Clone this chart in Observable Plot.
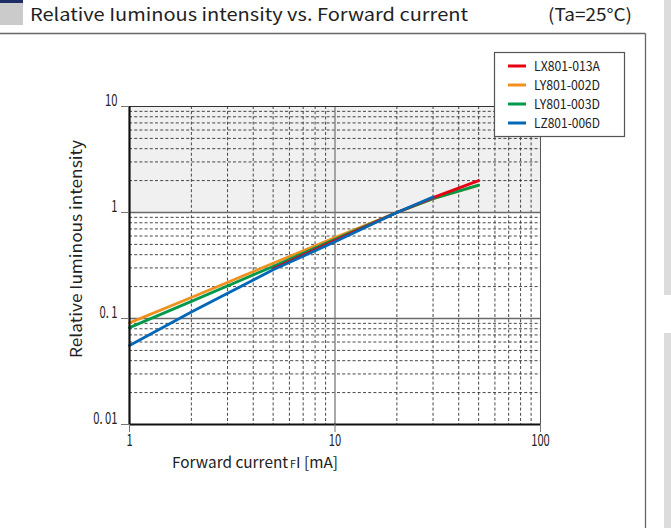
<!DOCTYPE html>
<html><head><meta charset="utf-8">
<script src="https://cdn.jsdelivr.net/npm/d3@7"></script>
<script src="https://cdn.jsdelivr.net/npm/@observablehq/plot@0.6"></script>
<style>
html,body{margin:0;padding:0;background:#fff;}
body{width:671px;height:528px;overflow:hidden;position:relative;font-family:"Noto Sans CJK JP","Noto Sans",sans-serif;}
#chart{position:absolute;left:0;top:0;}
#deco{position:absolute;left:0;top:0;}
</style></head><body>
<div id="chart"></div>
<svg id="deco" width="671" height="528"></svg>
<script>
// ---- data ----
const titleText = "Relative Iuminous intensity vs. Forward current";
const condText = "(Ta=25°C)";
const yLabelText = "Relative Iuminous intensity";
const seriesNames = ["LX801-013A", "LY801-002D", "LY801-003D", "LZ801-006D"];
const seriesColors = ["#e60012", "#f0901e", "#00994a", "#0068b7"];

const currentLX = [5, 10, 20, 30, 50];
const intensityLX = [0.295, 0.545, 1.0, 1.38, 2.0];
const currentLY2 = [1, 2, 5, 10, 20, 30, 50];
const intensityLY2 = [0.091, 0.158, 0.332, 0.58, 1.0, 1.35, 1.8];
const currentLY3 = [1, 2, 5, 10, 20, 30, 50];
const intensityLY3 = [0.082, 0.145, 0.31, 0.56, 1.0, 1.35, 1.81];
const currentLZ = [1, 2, 5, 10, 20, 30];
const intensityLZ = [0.0556, 0.115, 0.288, 0.53, 1.0, 1.4];

const xTicks = [1, 10, 100];
const xTickLabels = ["1", "10", "100"];
const yTicks = [0.01, 0.1, 1, 10];
const yTickLabels = ["0. 01", "0. 1", "1", "10"];
const xMinor = [2,3,4,5,6,7,8,9,20,30,40,50,60,70,80,90];
const yMinor = [0.02,0.03,0.04,0.05,0.06,0.07,0.08,0.09,0.2,0.3,0.4,0.5,0.6,0.7,0.8,0.9,2,3,4,5,6,7,8,9];
const shadedBand = [{lo: 1, hi: 10}];

// ---- build rows ----
const mk = (xs, ys, name) => xs.map((x, i) => ({I: x, v: ys[i], name}));
const rowsLX = mk(currentLX, intensityLX, seriesNames[0]);
const rowsLY2 = mk(currentLY2, intensityLY2, seriesNames[1]);
const rowsLY3 = mk(currentLY3, intensityLY3, seriesNames[2]);
const rowsLZ = mk(currentLZ, intensityLZ, seriesNames[3]);

const lw = 2.8;
const chart = Plot.plot({
  width: 671, height: 528,
  marginLeft: 129, marginRight: 131, marginTop: 106, marginBottom: 104,
  x: {type: "log", domain: [1, 100]},
  y: {type: "log", domain: [0.01, 10]},
  color: {domain: seriesNames, range: seriesColors},
  style: {fontFamily: '"Noto Sans CJK JP","Noto Sans",sans-serif', fontSize: "16px", color: "#222", background: "none", overflow: "visible"},
  marks: [
    Plot.rect(shadedBand, {x1: () => xTicks[0], x2: () => xTicks[2], y1: "lo", y2: "hi", fill: "#f0f0f0"}),
    Plot.ruleY(yMinor, {stroke: "#333", strokeDasharray: "3,2.2", strokeWidth: 0.9}),
    Plot.ruleX(xMinor, {stroke: "#333", strokeDasharray: "3,2.2", strokeWidth: 0.9}),
    Plot.ruleY([0.1, 1], {stroke: "#6a6a6a", strokeWidth: 1.3}),
    Plot.ruleX([10], {stroke: "#7a7a7a", strokeWidth: 1.3}),
    Plot.ruleY([10], {stroke: "#333", strokeWidth: 1.2}),
    Plot.ruleX([100], {stroke: "#555", strokeWidth: 1}),
    Plot.line(rowsLY2, {x: "I", y: "v", stroke: "name", strokeWidth: lw}),
    Plot.line(rowsLY3, {x: "I", y: "v", stroke: "name", strokeWidth: lw}),
    Plot.line(rowsLX, {x: "I", y: "v", stroke: "name", strokeWidth: lw}),
    Plot.line(rowsLZ, {x: "I", y: "v", stroke: "name", strokeWidth: lw}),
    Plot.ruleX([1], {stroke: "#111", strokeWidth: 2.2}),
    Plot.ruleY([0.01], {stroke: "#111", strokeWidth: 2.2}),
    Plot.axisX({ticks: xTicks, tickFormat: d => xTickLabels[xTicks.indexOf(d)], tickSize: 8, tickPadding: 2, stroke: "#777", fill: "#222", fontSize: 16, label: null}),
    Plot.axisY({ticks: yTicks, tickFormat: () => "", tickSize: 8, tickPadding: 0, stroke: "#777", label: null}),
    Plot.axisY({ticks: yTicks, tickFormat: d => yTickLabels[yTicks.indexOf(d)], tickSize: 0, tickPadding: 12, dy: -6, fill: "#222", fontSize: 16, label: null})
  ]
});
document.getElementById("chart").appendChild(chart);

// condense tick labels
d3.select(chart).selectAll("text").each(function() {
  const L = this.getComputedTextLength();
  if (L > 0) { this.setAttribute("textLength", (L * 0.7).toFixed(1)); this.setAttribute("lengthAdjust", "spacingAndGlyphs"); }
});

// axis labels
const svgC = d3.select(chart);
svgC.append("text").attr("transform", "translate(82,249) rotate(-90)")
  .attr("text-anchor", "middle").attr("fill", "#222").attr("font-size", 15.5)
  .attr("textLength", 218).attr("lengthAdjust", "spacingAndGlyphs").text(yLabelText);
const xl = svgC.append("text").attr("x", 255).attr("y", 468).attr("fill", "#222").attr("font-size", 15)
  .attr("textLength", 166).attr("lengthAdjust", "spacingAndGlyphs");
xl.append("tspan").text("Forward current");
xl.append("tspan").attr("font-size", 10.5).attr("dx", 2).text("F");
xl.append("tspan").attr("font-size", 15).text("I [mA]");

// ---- decorations, title, legend ----
const deco = d3.select("#deco");
deco.append("rect").attr("x", 664).attr("y", 0).attr("width", 7).attr("height", 295).attr("fill", "#dcdcdc");
deco.append("rect").attr("x", 664).attr("y", 333).attr("width", 7).attr("height", 195).attr("fill", "#dcdcdc");
deco.append("rect").attr("x", 0).attr("y", 0).attr("width", 23).attr("height", 3).attr("fill", "#1e2d63");
deco.append("rect").attr("x", 0).attr("y", 3).attr("width", 23).attr("height", 22).attr("fill", "#cbcbcb");
deco.append("line").attr("x1", 0).attr("x2", 645.5).attr("y1", 33.5).attr("y2", 33.5).attr("stroke", "#666").attr("stroke-width", 1.3);
deco.append("line").attr("x1", 645.5).attr("x2", 645.5).attr("y1", 33.5).attr("y2", 528).attr("stroke", "#666").attr("stroke-width", 1.3);
deco.append("text").attr("x", 30).attr("y", 21).attr("font-size", 17.5).attr("fill", "#222")
  .attr("textLength", 438).attr("lengthAdjust", "spacingAndGlyphs").text(titleText);
deco.append("text").attr("x", 548).attr("y", 21).attr("font-size", 17.5).attr("fill", "#222")
  .attr("textLength", 84).attr("lengthAdjust", "spacingAndGlyphs").text(condText);

const leg = deco.append("g");
leg.append("rect").attr("x", 494.5).attr("y", 52.5).attr("width", 130).attr("height", 84).attr("fill", "#fff").attr("stroke", "#555").attr("stroke-width", 1.2);
const rowY = [66, 85, 104, 123];
seriesNames.forEach((n, i) => {
  leg.append("line").attr("x1", 508).attr("x2", 526).attr("y1", rowY[i]).attr("y2", rowY[i]).attr("stroke", seriesColors[i]).attr("stroke-width", 3);
  leg.append("text").attr("x", 534).attr("y", rowY[i] + 5).attr("font-size", 13.5).attr("fill", "#222")
    .attr("textLength", 66).attr("lengthAdjust", "spacingAndGlyphs").text(n);
});
</script>
</body></html>
